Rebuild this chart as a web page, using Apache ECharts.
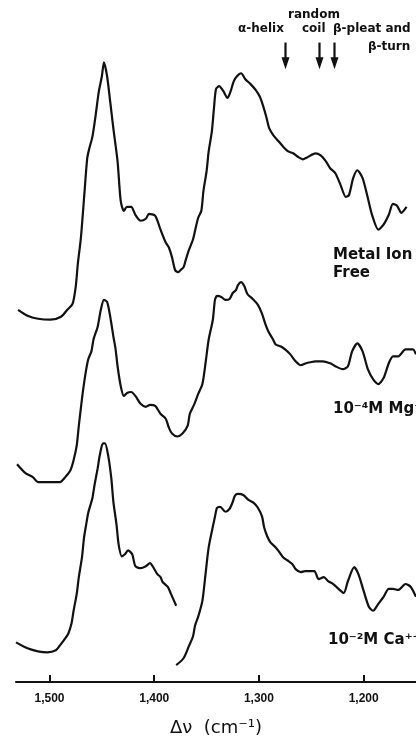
<!DOCTYPE html>
<html>
<head>
<meta charset="UTF-8">
<title>Raman spectra</title>
<script src="https://cdn.jsdelivr.net/npm/echarts@6/dist/echarts.min.js"></script>
<style>
  html, body { margin: 0; padding: 0; background: #fff; }
  #main { width: 416px; height: 742px; }
</style>
</head>
<body>
<div id="main"></div>
<script type="text/javascript">
// wavenumber (cm-1) and relative intensity
var freeWn  = [1530,1521,1511,1499,1489,1483,1478,1475,1473,1470,1467,1464,1462,1459,1456,1453,1450,1448,1445,1442,1439,1435,1432,1429,1426,1422,1418,1413,1408,1405,1399,1394,1389,1386,1383,1380,1377,1375,1372,1370,1367,1363,1361,1358,1355,1353,1350,1348,1345,1343,1341,1338,1334,1330,1327,1324,1321,1317,1313,1308,1303,1299,1296,1293,1290,1286,1281,1277,1272,1267,1262,1258,1254,1246,1241,1236,1232,1227,1222,1217,1214,1210,1206,1201,1196,1192,1186,1181,1176,1172,1168,1164,1159];
var freeInt = [376,370,367,366,369,376,382,399,422,449,489,529,539,551,572,596,612,626,612,586,559,526,486,476,480,480,472,466,468,473,471,457,444,439,429,416,414,416,419,426,436,447,456,469,476,496,516,536,556,579,599,602,597,590,597,607,612,615,609,604,598,591,582,571,559,552,546,541,536,534,530,528,530,534,532,526,519,514,502,490,492,509,517,509,489,472,457,462,472,483,481,474,480];

var mgWn  = [1531,1523,1516,1511,1499,1490,1485,1480,1477,1474,1472,1469,1466,1463,1460,1458,1454,1451,1448,1445,1442,1439,1437,1435,1432,1429,1426,1422,1418,1413,1408,1404,1399,1394,1389,1386,1383,1378,1373,1368,1366,1362,1358,1354,1351,1348,1344,1342,1340,1336,1332,1328,1325,1322,1320,1317,1314,1311,1306,1301,1297,1294,1291,1287,1284,1279,1275,1270,1265,1260,1255,1251,1246,1239,1232,1227,1220,1215,1211,1206,1201,1196,1191,1186,1181,1176,1172,1167,1160,1153,1150];
var mgInt = [220,211,207,202,202,202,207,214,224,239,259,286,309,326,334,346,359,376,386,384,369,349,337,319,299,289,292,293,289,281,278,280,279,271,266,257,251,248,251,259,271,280,291,301,322,346,366,386,390,389,386,387,393,396,401,404,400,392,387,381,372,362,354,347,341,339,336,331,324,320,322,323,324,324,322,319,316,319,334,342,334,316,306,301,307,322,329,329,336,336,331];

// Ca trace is broken near 1380 cm-1
var caWnA  = [1532,1521,1511,1502,1494,1490,1485,1482,1479,1477,1474,1472,1469,1467,1465,1463,1459,1457,1454,1452,1449,1447,1444,1441,1439,1436,1434,1431,1428,1425,1421,1418,1413,1408,1404,1401,1397,1394,1392,1387,1384,1379];
var caIntA = [40,34,31,30,32,37,44,49,59,72,89,106,126,146,159,171,186,199,216,229,241,241,229,206,182,159,139,127,129,133,129,117,115,117,120,116,109,106,101,96,89,77];
var caWnB  = [1379,1372,1367,1363,1361,1358,1354,1351,1348,1344,1342,1340,1337,1332,1328,1325,1323,1320,1315,1310,1305,1301,1297,1295,1292,1289,1284,1281,1277,1273,1268,1265,1260,1256,1251,1247,1243,1238,1234,1229,1224,1219,1215,1209,1205,1200,1195,1191,1186,1181,1176,1172,1167,1160,1155,1150];
var caIntB = [17,24,36,46,57,66,82,109,136,157,167,176,177,172,175,182,188,190,189,184,181,176,167,156,147,141,136,132,126,123,119,114,111,112,112,112,104,106,102,99,94,90,102,116,109,92,76,72,79,86,94,94,93,99,96,86];

var tickWn = [1500, 1400, 1300, 1200];
var tickLabels = ['1,500', '1,400', '1,300', '1,200'];

// band markers: wavenumber, arrow top, arrow tip
var bandWn = [1275, 1243, 1228];
var arrowTop = 646, arrowTip = 619;

function pairs(xs, ys) {
    return xs.map(function (x, i) { return [x, ys[i]]; });
}

var myChart = echarts.init(document.getElementById('main'));

var lineStyle = { color: '#111', width: 2.2 };
function trace(name, xs, ys) {
    return {
        name: name,
        type: 'line',
        data: pairs(xs, ys),
        showSymbol: false,
        smooth: 0.25,
        lineStyle: lineStyle,
        silent: true
    };
}

var option = {
    animation: false,
    backgroundColor: '#fff',
    grid: { left: 16, right: 0, top: 0, bottom: 53 },
    xAxis: {
        type: 'value',
        min: 1150,
        max: 1532,
        inverse: true,
        axisLine: { lineStyle: { color: '#111', width: 2 } },
        axisTick: { inside: true, length: 7, customValues: tickWn, lineStyle: { color: '#111', width: 2 } },
        axisLabel: {
            customValues: tickWn,
            margin: 11,
            color: '#111',
            fontFamily: 'Liberation Sans',
            fontSize: 12,
            fontWeight: 'bold',
            formatter: function (v) { return tickLabels[tickWn.indexOf(v)]; }
        },
        splitLine: { show: false },
        name: 'Δν  (cm⁻¹)',
        nameLocation: 'middle',
        nameGap: 37,
        nameTextStyle: { color: '#111', fontFamily: 'DejaVu Sans', fontSize: 18 }
    },
    yAxis: { type: 'value', min: 0, max: 689, show: false },
    series: [
        trace('Metal Ion Free', freeWn, freeInt),
        trace('10-4 M Mg', mgWn, mgInt),
        trace('10-2 M Ca a', caWnA, caIntA),
        trace('10-2 M Ca b', caWnB, caIntB),
        {
            type: 'custom',
            silent: true,
            data: bandWn.map(function (w) { return [w, arrowTop, arrowTip]; }),
            renderItem: function (params, api) {
                var top = api.coord([api.value(0), api.value(1)]);
                var tip = api.coord([api.value(0), api.value(2)]);
                var x = Math.round(tip[0]) + 0.5;
                return {
                    type: 'group',
                    children: [
                        { type: 'line', shape: { x1: x, y1: top[1], x2: x, y2: tip[1] - 8 },
                          style: { stroke: '#111', lineWidth: 2.2 } },
                        { type: 'polygon', shape: { points: [[x - 4, tip[1] - 12], [x + 4, tip[1] - 12], [x, tip[1]]] },
                          style: { fill: '#111' } }
                    ]
                };
            }
        }
    ],
    graphic: [
        { type: 'text', left: 288, top: 9, style: { text: 'random', font: 'bold 12px "DejaVu Sans"', fill: '#111' } },
        { type: 'text', left: 238, top: 23, style: { text: 'α-helix', font: 'bold 12px "DejaVu Sans"', fill: '#111' } },
        { type: 'text', left: 302, top: 23, style: { text: 'coil', font: 'bold 12px "DejaVu Sans"', fill: '#111' } },
        { type: 'text', left: 333, top: 23, style: { text: 'β-pleat and', font: 'bold 12px "DejaVu Sans"', fill: '#111' } },
        { type: 'text', left: 368, top: 41, style: { text: 'β-turn', font: 'bold 12px "DejaVu Sans"', fill: '#111' } },
        { type: 'text', left: 333, top: 246, style: { text: 'Metal Ion\nFree', font: 'bold 15px "DejaVu Sans"', lineHeight: 18, fill: '#111' } },
        { type: 'text', left: 333, top: 402, style: { text: '10⁻⁴M Mg⁺⁺', font: 'bold 15px "DejaVu Sans"', fill: '#111' } },
        { type: 'text', left: 328, top: 633, style: { text: '10⁻²M Ca⁺⁺', font: 'bold 15px "DejaVu Sans"', fill: '#111' } }
    ]
};

myChart.setOption(option);
</script>
</body>
</html>
